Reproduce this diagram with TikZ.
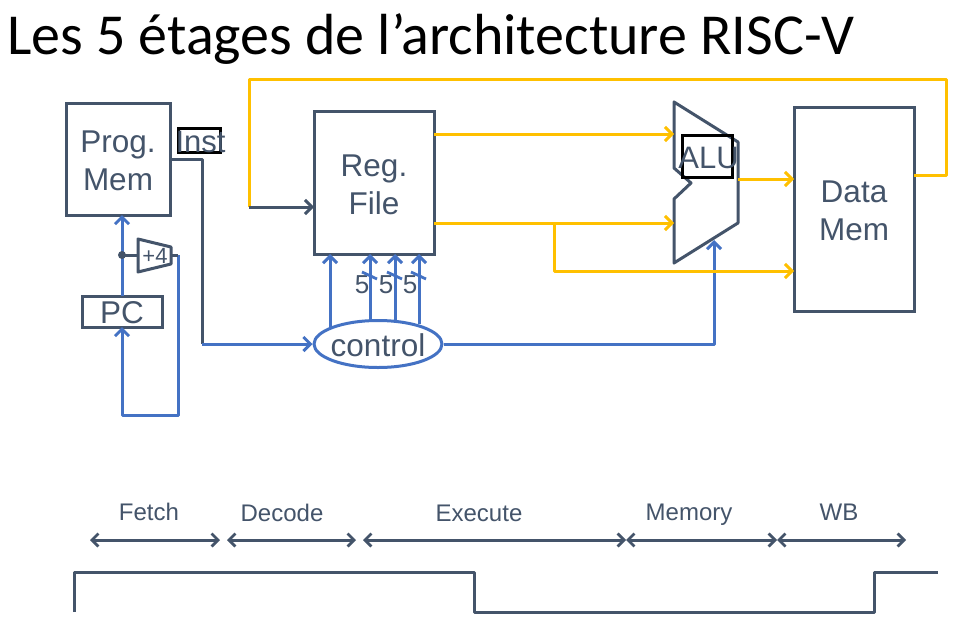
\documentclass[tikz,border=0pt]{standalone}
\usepackage{fontspec}
\setmainfont{Liberation Sans}
\newfontfamily\titlefont{Carlito}
\usetikzlibrary{arrows.meta,calc,shapes.geometric}
\definecolor{slate}{HTML}{44546A}
\definecolor{wireblue}{HTML}{4472C4}
\definecolor{gold}{HTML}{FFC000}
\tikzset{
  blockbox/.style={draw=slate,line width=3pt,fill=white,inner sep=0pt},
  blocktext/.style={align=center,inner sep=0pt,text=slate,font=\fontsize{31.5}{38}\selectfont},
  tagbox/.style={draw=black,line width=3pt,inner sep=0pt},
  tagtext/.style={text=slate,inner sep=0pt,font=\fontsize{31}{34}\selectfont},
  lbl/.style={text=slate,inner sep=0pt,font=\fontsize{26}{28}\selectfont},
  stagelbl/.style={anchor=base,text=slate,inner sep=0pt,font=\fontsize{24}{28}\selectfont},
  tip/.style={-{Straight Barb[length=7pt,width=14pt,line width=3pt]}},
  bluewire/.style={draw=wireblue,line width=3pt,line join=round},
  goldwire/.style={draw=gold,line width=3pt,line join=round},
  slatewire/.style={draw=slate,line width=3pt,line join=round},
  stagearrow/.style={draw=slate,line width=3pt,{Straight Barb[length=6.5pt,width=13pt,line width=2.8pt]}-{Straight Barb[length=6.5pt,width=13pt,line width=2.8pt]}},
}
\begin{document}
\begin{tikzpicture}[x=1pt,y=-1pt]
\useasboundingbox (0,0) rectangle (963,629);
\fill[white] (0,0) rectangle (963,629);
% title
\node[anchor=base west,inner sep=0pt,text=black,font=\titlefont\fontsize{58}{66}\selectfont] (title) at (7,54) {Les 5 étages de l’architecture RISC-V};
% blocks
\node[blockbox,minimum width=104pt,minimum height=112pt] (prog) at (118,159) {};
\node[blocktext] (progt) at (118,161) {Prog.\\Mem};
\node[blockbox,minimum width=80pt,minimum height=31pt] (pc) at (122,311.5) {};
\node[blocktext] (pct) at (122,313) {PC};
\node[blockbox,minimum width=120pt,minimum height=143pt] (reg) at (374,182.5) {};
\node[blocktext] (regt) at (374,184.5) {Reg.\\File};
\node[blockbox,minimum width=120pt,minimum height=204pt] (data) at (854,209) {};
\node[blocktext] (datat) at (854,211) {Data\\Mem};
\node[tagbox,minimum width=42pt,minimum height=24pt] (instbox) at (199,140) {};
\node[tagtext] (inst) at (200.5,141.5) {Inst};
\node[draw=wireblue,line width=3pt,ellipse,minimum width=128pt,minimum height=47pt,inner sep=0pt] (ctrl) at (378,344) {};
\node[text=slate,inner sep=0pt,font=\fontsize{31.5}{36}\selectfont] (ctrlt) at (378,345) {control};
% adder shape
\coordinate (a1) at (138,239);
\coordinate (a2) at (171,247);
\coordinate (a3) at (171,264);
\coordinate (a4) at (138,272);
\coordinate (addin) at (138,255);
\coordinate (addout) at (171,255);
\draw[slatewire,fill=white] (a1) -- (a2) -- (a3) -- (a4) -- cycle;
\node[text=slate,inner sep=0pt,font=\fontsize{22}{26}\selectfont] (plus) at (155,256) {+4};
% ALU shape
\coordinate (u1) at (674,102);
\coordinate (u2) at (738,142);
\coordinate (u3) at (738,223);
\coordinate (u4) at (674,263);
\coordinate (u5) at (674,199);
\coordinate (u6) at (691,183);
\coordinate (u7) at (674,168);
\draw[slatewire] (u1) -- (u2) -- (u3) -- (u4) -- (u5) -- (u6) -- (u7) -- cycle;
\node[tagbox,minimum width=50pt,minimum height=42pt] (alubox) at (707,156) {};
\node[tagtext] (alu) at (708.5,158) {ALU};
% fetch wires
\coordinate (dot) at (122,255);
\coordinate (pma) at (122,215);
\coordinate (pctop) at (122,296);
\coordinate (pcb) at (122,327);
\coordinate (lb) at (122,415);
\coordinate (rb) at (178,415);
\coordinate (rt) at (178,255);
\draw[bluewire,tip] (pctop) -- (pma);
\draw[bluewire,tip] (rt) -- (rb) -- (lb) -- (pcb);
\draw[slatewire] (addout) -- (rt);
\draw[slatewire] (dot) -- (addin);
\fill[slate] (dot) circle (4pt);
% instruction wires
\coordinate (pmo) at (170,159);
\coordinate (i1) at (202,159);
\coordinate (i2) at (202,344);
\draw[slatewire] (pmo) -- (i1) -- (i2);
\draw[bluewire,tip] (i2) -- (ctrl.west);
% control to reg file
\coordinate (r0) at (330,254);
\coordinate (r1) at (370,254);
\coordinate (r2) at (395,254);
\coordinate (r3) at (419,254);
\coordinate (c0) at (330,327);
\coordinate (c1) at (370,321);
\coordinate (c2) at (395,321);
\coordinate (c3) at (419,324);
\draw[bluewire,tip] (c0) -- (r0);
\draw[bluewire,tip] (c1) -- (r1);
\draw[bluewire,tip] (c2) -- (r2);
\draw[bluewire,tip] (c3) -- (r3);
\node[lbl] (n1) at (362,285) {5};
\node[lbl] (n2) at (386,285) {5};
\node[lbl] (n3) at (410,285) {5};
\draw[wireblue,line width=2.8pt] (362,272) -- (377,279);
\draw[wireblue,line width=2.8pt] (387,272) -- (402,279);
\draw[wireblue,line width=2.8pt] (411,272) -- (426,279);
% control to ALU
\coordinate (k1) at (714,344);
\coordinate (k2) at (714,240);
\draw[bluewire,tip] (ctrl.east) -- (k1) -- (k2);
% data path
\coordinate (ra) at (434,134);
\coordinate (aa) at (674,134);
\coordinate (rb2) at (434,223);
\coordinate (ab) at (674,223);
\coordinate (j) at (554,223);
\coordinate (j2) at (554,271);
\coordinate (dm) at (794,271);
\coordinate (ao) at (738,179);
\coordinate (di) at (794,179);
\draw[goldwire,tip] (ra) -- (aa);
\draw[goldwire,tip] (rb2) -- (ab);
\draw[goldwire,tip] (j) -- (j2) -- (dm);
\draw[goldwire,tip] (ao) -- (di);
% write back
\coordinate (w0) at (914,175);
\coordinate (w1) at (946,175);
\coordinate (w2) at (946,79);
\coordinate (w3) at (249,79);
\coordinate (w4) at (249,207);
\coordinate (w5) at (314,207);
\draw[goldwire] (w0) -- (w1) -- (w2) -- (w3) -- (w4);
\draw[slatewire,tip] (w4) -- (w5);
% stages
\coordinate (s0) at (90,540);
\coordinate (s1) at (220,540);
\coordinate (s2) at (227,540);
\coordinate (s3) at (356,540);
\coordinate (s4) at (363,540);
\coordinate (s5) at (626,540);
\coordinate (s6) at (777,540);
\coordinate (s7) at (906,540);
\draw[stagearrow] (s0) -- (s1);
\draw[stagearrow] (s2) -- (s3);
\draw[stagearrow] (s4) -- (s5);
\draw[stagearrow] (s5) -- (s6);
\draw[stagearrow] (s6) -- (s7);
\node[stagelbl] (fetch) at (149,520) {Fetch};
\node[stagelbl] (decode) at (282,521) {Decode};
\node[stagelbl] (execute) at (479,521) {Execute};
\node[stagelbl] (memory) at (689,520) {Memory};
\node[stagelbl] (wb) at (839,520) {WB};
% clock
\draw[slatewire] (74,612) -- (74,572) -- (474,572) -- (474,612) -- (874,612) -- (874,572) -- (938,572);
\end{tikzpicture}
\end{document}
